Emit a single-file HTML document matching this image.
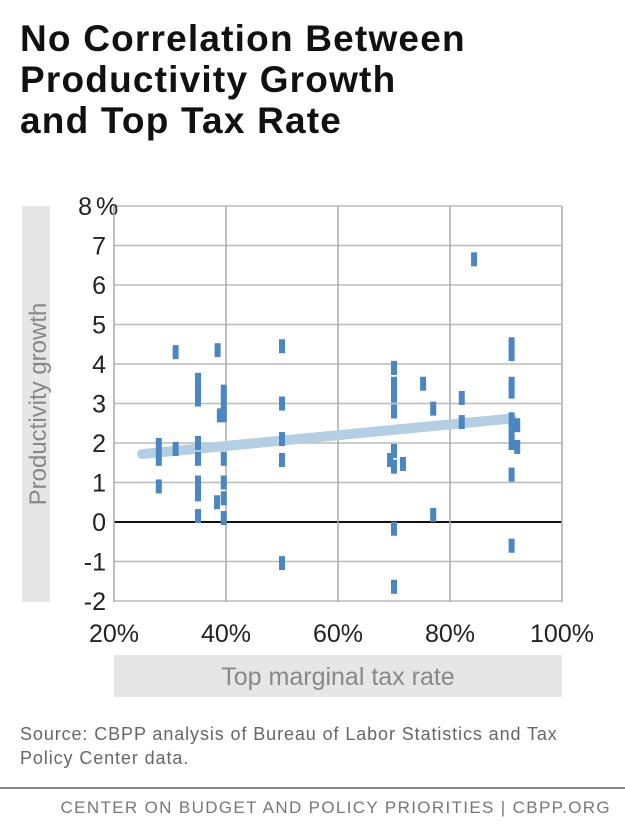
<!DOCTYPE html>
<html><head><meta charset="utf-8"><style>
body{margin:0;width:625px;height:836px;background:#fff;font-family:"Liberation Sans",sans-serif;overflow:hidden;position:relative}
.t{position:absolute;left:20px;top:18px;font-size:37px;font-weight:bold;line-height:41px;color:#111;letter-spacing:1.2px}
.src{position:absolute;left:20px;top:722px;font-size:18px;line-height:24px;color:#666;letter-spacing:0.9px}
.rule{position:absolute;left:0;top:787px;width:625px;height:2px;background:#888}
.foot{position:absolute;right:14px;top:798px;font-size:17px;letter-spacing:1.35px;color:#777}
</style></head><body>
<div class="t">No Correlation Between<br>Productivity Growth<br>and Top Tax Rate</div>
<svg id="c" width="625" height="720" style="position:absolute;left:0;top:0"></svg>
<div class="src">Source: CBPP analysis of Bureau of Labor Statistics and Tax<br>Policy Center data.</div>
<div class="rule"></div>
<div class="foot">CENTER ON BUDGET AND POLICY PRIORITIES | CBPP.ORG</div>
<script>
const xTicks=[20,40,60,80,100];
const yTicks=[-2,-1,0,1,2,3,4,5,6,7,8];
const taxRate=[31,38.5,50,35,35,35,39.6,39.6,39.6,38.9,50,50,50,50,28,28,28,31,35,35,35,35,35,39.6,39.6,39.6,39.6,38.4,
84.3,70,70,70,70,70,70,69.3,71.6,75.2,77,77,70,70,82.1,82.1,91,91,91,91,91,91,91,91,91,92,92];
const growth=[4.3,4.35,4.45,3.6,3.3,3.1,3.3,3.0,2.7,2.7,3.0,2.1,1.57,-1.04,1.95,1.6,0.9,1.85,2.0,1.6,1.0,0.7,0.15,1.6,1.0,0.6,0.1,0.5,
6.65,3.9,3.5,3.2,2.8,1.8,1.4,1.57,1.47,3.5,2.87,0.18,-0.17,-1.64,3.14,2.53,4.5,4.25,3.5,3.3,2.6,2.3,2.0,1.2,-0.6,2.45,1.9];
const trendX=[25,91];
const trendY=[1.72,2.62];
const svg=document.getElementById('c');const NS='http://www.w3.org/2000/svg';
const X=v=>114+(v-20)*5.6, Y=v=>522-v*39.5;
function el(t,a,p){const e=document.createElementNS(NS,t);for(const k in a)e.setAttribute(k,a[k]);(p||svg).appendChild(e);return e;}
const yb=el('rect',{x:22,y:206,width:28,height:396,fill:'#e6e6e6'});


const yt=el('text',{x:0,y:0,transform:'translate(46,404) rotate(-90)','text-anchor':'middle','font-size':'24','fill':'#888'});yt.textContent='Productivity growth';


const xb=el('rect',{x:114,y:655,width:448,height:42,fill:'#e6e6e6'});


const xt=el('text',{x:338,y:685,'text-anchor':'middle','font-size':'25','fill':'#888'});xt.textContent='Top marginal tax rate';


yTicks.forEach(v=>{const l=el('line',{x1:114,x2:562,y1:Y(v),y2:Y(v),stroke:v===0?'#111':'#bbb','stroke-width':v===0?2:1.5});


const t=el('text',{x:v===8?92:106,y:Y(v)+9,'text-anchor':'end','font-size':'25','fill':'#222'});t.textContent=v;

});
const pct=el('text',{x:96,y:Y(8)+9,'font-size':'25','fill':'#222'});pct.textContent='%';


xTicks.forEach(v=>{const l=el('line',{x1:X(v),x2:X(v),y1:206,y2:602,stroke:'#aaa','stroke-width':1.5});


const t=el('text',{x:X(v),y:642,'text-anchor':'middle','font-size':'25','fill':'#222'});t.textContent=v+'%';

});
const tl=el('line',{x1:X(trendX[0]),y1:Y(trendY[0]),x2:X(trendX[1]),y2:Y(trendY[1]),stroke:'#b4cfe3','stroke-width':10,'stroke-linecap':'round'});


taxRate.forEach((x,i)=>{const r=el('rect',{x:X(x)-3,y:Y(growth[i])-7,width:6,height:14,fill:'#4a87c0'});

});
</script>
</body></html>
